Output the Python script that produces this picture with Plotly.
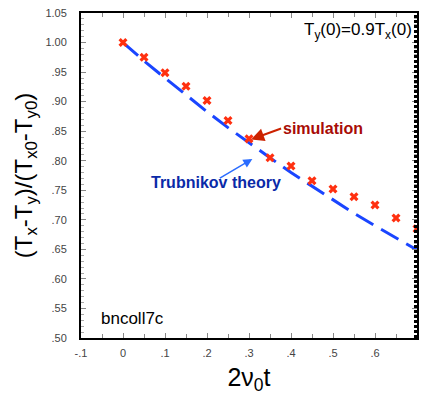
import plotly.graph_objects as go

sim_x = [0.0, 0.05, 0.10, 0.15, 0.20, 0.25, 0.30, 0.35, 0.40, 0.45, 0.50, 0.55, 0.60, 0.65, 0.70]
sim_y = [1.000, 0.975, 0.949, 0.926, 0.902, 0.868, 0.837, 0.805, 0.791, 0.766, 0.752, 0.739, 0.725, 0.703, 0.685]

th_x = [0.0, 0.05, 0.10, 0.15, 0.20, 0.25, 0.30, 0.35, 0.40, 0.45, 0.50, 0.55, 0.60, 0.65, 0.70]
th_y = [1.000, 0.969, 0.940, 0.911, 0.883, 0.856, 0.830, 0.805, 0.780, 0.757, 0.734, 0.711, 0.690, 0.669, 0.649]

x_ticks = [-0.1, 0.0, 0.1, 0.2, 0.3, 0.4, 0.5, 0.6, 0.7]
x_labels = ["-.1", "0", ".1", ".2", ".3", ".4", ".5", ".6", ".7"]
y_ticks = [0.50, 0.55, 0.60, 0.65, 0.70, 0.75, 0.80, 0.85, 0.90, 0.95, 1.00, 1.05]
y_labels = [".50", ".55", ".60", ".65", ".70", ".75", ".80", ".85", ".90", ".95", "1.00", "1.05"]

fig = go.Figure()
fig.add_trace(go.Scatter(x=th_x, y=th_y, mode="lines",
                         line=dict(color="#1a45ff", width=3, dash="20px,9px"),
                         showlegend=False))
fig.add_trace(go.Scatter(x=sim_x, y=sim_y, mode="markers",
                         marker=dict(symbol="x", size=8, color="#ff3010", line=dict(width=0)),
                         showlegend=False))

font = "Liberation Sans, Arial, sans-serif"
fig.update_layout(
    width=421, height=396,
    margin=dict(l=81, r=2, t=13, b=58),
    paper_bgcolor="white", plot_bgcolor="white",
    font=dict(family=font, color="black"),
    xaxis=dict(range=[-0.1, 0.7], tickvals=x_ticks, ticktext=x_labels,
               ticks="inside", ticklen=5, tickcolor="#888", mirror="ticks",
               showline=True, linecolor="black", linewidth=2, showgrid=False, zeroline=False,
               tickfont=dict(size=11, color="#444"), ticklabelstandoff=4,
               minor=dict(dtick=0.05, ticks="inside", ticklen=4, tickcolor="#888"),
               title=dict(text="2ν<sub>0</sub>t", font=dict(size=25), standoff=10)),
    yaxis=dict(range=[0.5, 1.05], tickvals=y_ticks, ticktext=y_labels,
               ticks="inside", ticklen=5, tickcolor="#888", mirror="ticks",
               showline=True, linecolor="black", linewidth=2, showgrid=False, zeroline=False,
               tickfont=dict(size=11, color="#444"), ticklabelstandoff=10,
               minor=dict(dtick=0.01, ticks="inside", ticklen=3, tickcolor="#aaa"),
               title=dict(text="(T<sub>x</sub>-T<sub>y</sub>)/(T<sub>x0</sub>-T<sub>y0</sub>)",
                          font=dict(size=24), standoff=6)),
    shapes=[dict(type="line", xref="paper", yref="paper", x0=0.997, x1=0.997, y0=0, y1=1,
                 line=dict(color="black", width=4, dash="3px,2px"))],
    annotations=[
        dict(text="T<sub>y</sub>(0)=0.9T<sub>x</sub>(0)", xref="paper", yref="paper",
             x=0.99, y=0.985, xanchor="right", yanchor="top", showarrow=False,
             font=dict(size=17, color="black")),
        dict(text="bncoll7c", xref="paper", yref="paper", x=0.055, y=0.025,
             xanchor="left", yanchor="bottom", showarrow=False,
             font=dict(size=17, color="black")),
        dict(text="<b>simulation</b>", x=0.305, y=0.836, ax=30, ay=-11,
             showarrow=True, arrowhead=2, arrowsize=1.3, arrowwidth=2, arrowcolor="#cc2200",
             xanchor="left", yanchor="middle",
             font=dict(size=16, color="#a80c06")),
        dict(text="", x=0.308, y=0.803, ax=-34, ay=20, standoff=0, startstandoff=0,
             showarrow=True, arrowhead=2, arrowsize=1.2, arrowwidth=1.5, arrowcolor="#2a6cff"),
        dict(text="<b>Trubnikov theory</b>", x=0.222, y=0.763, showarrow=False,
             font=dict(size=16, color="#0a2aa8")),
    ],
)
fig.write_html("out.html")
